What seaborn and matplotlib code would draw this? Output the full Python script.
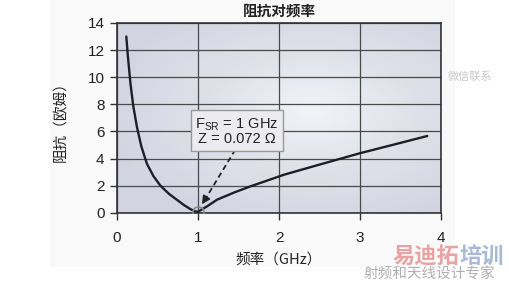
import numpy as np
import pandas as pd
import matplotlib
matplotlib.use("Agg")
import matplotlib.pyplot as plt
import seaborn as sns
from matplotlib.patches import Rectangle
from matplotlib.colors import LinearSegmentedColormap

# ---- data ----
freq_ghz = [0.115, 0.135, 0.165, 0.2, 0.247, 0.3, 0.37, 0.45, 0.535, 0.64, 0.74, 0.83, 0.905, 0.96, 1.0,
            1.05, 1.12, 1.235, 1.45, 1.646, 2.06, 2.5, 3.0, 3.4, 3.83]
impedance = [13.0, 11.5, 9.6, 7.9, 6.3, 4.9, 3.6, 2.7, 2.0, 1.4, 0.95, 0.55, 0.27, 0.1, 0.07,
             0.25, 0.5, 0.96, 1.5, 1.94, 2.8, 3.55, 4.39, 5.0, 5.66]
x_ticks = [0, 1, 2, 3, 4]
y_ticks = [0, 2, 4, 6, 8, 10, 12, 14]
srf_point = (1.0, 0.072)
title = "阻抗对频率"
x_label = "频率（GHz）"
y_label = "阻抗（欧姆）"
note_line1 = r"F$_{\mathregular{SR}}$ = 1 GHz"
note_line2 = "Z = 0.072 Ω"

sns.set_style("white")
plt.rcParams['font.family'] = ['Liberation Sans', 'Noto Sans CJK SC', 'DejaVu Sans']
cjk = ['Noto Sans CJK SC', 'DejaVu Sans']

df = pd.DataFrame({"freq": freq_ghz, "z": impedance})

fig = plt.figure(figsize=(5.09, 2.83), dpi=100)
fig.patch.set_facecolor("white")
fig.patches.append(Rectangle((50/509, 1-267/283), 405/509, 267/283, transform=fig.transFigure,
                             facecolor="#f9f9f9", edgecolor="none", zorder=-10))

ax = fig.add_axes([117/509, 1-212.7/283, 324/509, 189.7/283])

# radial-ish gradient background
gx, gy = np.meshgrid(np.linspace(0, 4, 200), np.linspace(14, 0, 120))
r = np.sqrt(((gx - 2.4) / 2.6) ** 2 + ((gy - 7.5) / 9.0) ** 2)
cmap = LinearSegmentedColormap.from_list("bg", ["#f3f4f8", "#dfe1ea", "#d2d5e1"])
ax.imshow(np.clip(r, 0, 1), extent=[0, 4, 0, 14], origin="upper", aspect="auto",
          cmap=cmap, vmin=0, vmax=1, zorder=0, interpolation="bilinear")
ax.set_xlim(0, 4)
ax.set_ylim(0, 14)

sns.lineplot(data=df, x="freq", y="z", sort=False, color="#1e1e2a", linewidth=1.7, ax=ax, zorder=3)

ax.set_xticks(x_ticks)
ax.set_yticks(y_ticks)
ax.grid(True, color="#4a4a4a", linewidth=0.9)
for gl in ax.get_xgridlines() + ax.get_ygridlines():
    gl.set_zorder(1)
for s in ax.spines.values():
    s.set_color("#333333")
    s.set_linewidth(1.2)
    s.set_visible(True)
ax.tick_params(axis="both", direction="out", length=5, width=1, color="#333333",
               labelsize=11, labelcolor="#222222", pad=4, left=True, bottom=True)
ax.tick_params(axis="x", pad=8)
ax.set_xlabel(x_label, family=cjk, fontsize=10.5, color="#222222", labelpad=6)
ax.set_ylabel(y_label, family=cjk, fontsize=10.5, color="#222222", labelpad=14)
ax.set_title(title, family=cjk, fontsize=10.5, fontweight="bold", color="#222222", pad=5)

# SRF marker
ax.plot([srf_point[0]], [srf_point[1]], marker="o", markersize=8, markerfacecolor="none",
        markeredgecolor="#888888", markeredgewidth=1.2, zorder=4)

# dashed arrow
ax.plot([1.46, 1.09], [4.65, 1.0], linestyle=(0, (3, 2)), color="#222222", linewidth=1.3, zorder=4)
ax.annotate("", xy=(1.03, 0.45), xytext=(1.1, 1.1),
            arrowprops=dict(arrowstyle="-|>", color="#222222", lw=1.2, mutation_scale=12), zorder=5)

# note box
ax.text(1.48, 6.02, note_line1 + "\n" + note_line2, ha="center", va="center",
        fontsize=10.5, color="#222222", linespacing=0.95, zorder=6,
        bbox=dict(boxstyle="square,pad=0.3", facecolor="#ececf0", edgecolor="#999999", linewidth=1))

# watermark texts
fig.text(470/509, 1-77/283, "微信联系", family=cjk, fontsize=8, color="#c8c8c8", ha="center", va="center")
fig.text(459/509, 1-257/283, "易迪拓", family=cjk, fontsize=16, fontweight="bold", color="#eaa3a3",
         ha="right", va="center")
fig.text(459/509, 1-257/283, "培训", family=cjk, fontsize=16, fontweight="bold", color="#a9bad6",
         ha="left", va="center")
fig.text(429/509, 1-275/283, "射频和天线设计专家", family=cjk, fontsize=10.5, color="#b0b0b0",
         ha="center", va="center")

fig.savefig("out.png", dpi=100, facecolor=fig.get_facecolor())
